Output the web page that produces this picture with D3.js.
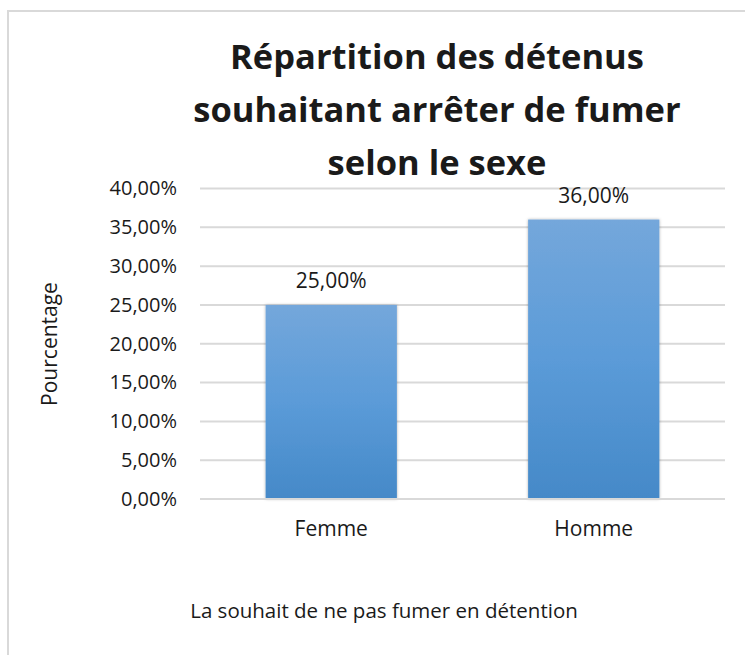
<!DOCTYPE html>
<html><head><meta charset="utf-8">
<script src="https://cdn.jsdelivr.net/npm/d3@7"></script>
<style>body{margin:0;background:#fff}svg{display:block}text{font-family:"Open Sans",sans-serif;fill:#1a1a1a}</style>
</head><body><svg id="c" width="745" height="655"></svg>
<script>
const categories = ["Femme", "Homme"];
const values = [0.25, 0.36];
const yTicks = [0, 0.05, 0.10, 0.15, 0.20, 0.25, 0.30, 0.35, 0.40];
const titleLines = ["Répartition des détenus", "souhaitant arrêter de fumer", "selon le sexe"];
const xTitle = "La souhait de ne pas fumer en détention";
const yTitle = "Pourcentage";

(function(){
const svg = d3.select("#c");
const fmt = v => d3.format(".2f")(v*100).replace(".", ",") + "%";

// border
svg.append("rect").attr("x",8).attr("y",11).attr("width",760).attr("height",670)
  .attr("fill","none").attr("stroke","#d9d9d9").attr("stroke-width",2);

const pL=200, pR=725, pT=188.5, pB=499;
const x = d3.scaleBand().domain(categories).range([pL,pR]).paddingInner(0.5).paddingOuter(0.25);
const y = d3.scaleLinear().domain([0,0.40]).range([pB,pT]);

const defs = svg.append("defs");
const g = defs.append("linearGradient").attr("id","bg").attr("x1",0).attr("y1",0).attr("x2",0).attr("y2",1);
g.append("stop").attr("offset","0%").attr("stop-color","#74a7db");
g.append("stop").attr("offset","50%").attr("stop-color","#5b9bd8");
g.append("stop").attr("offset","100%").attr("stop-color","#4589c8");
const f = defs.append("filter").attr("id","sh").attr("x","-10%").attr("y","-10%").attr("width","120%").attr("height","120%");
f.append("feDropShadow").attr("dx",0).attr("dy",0).attr("stdDeviation",1.5).attr("flood-color","#000").attr("flood-opacity",0.3);

// gridlines
svg.append("g").selectAll("line").data(yTicks).join("line")
  .attr("x1",pL).attr("x2",pR).attr("y1",d=>y(d)).attr("y2",d=>y(d))
  .attr("stroke","#d9d9d9").attr("stroke-width",2);

// y axis
const ya = svg.append("g").attr("transform",`translate(${pL},0)`)
  .call(d3.axisLeft(y).tickValues(yTicks).tickFormat(fmt).tickSize(0).tickPadding(23));
ya.select(".domain").remove();
ya.selectAll("text").style("font-family","'Open Sans',sans-serif").style("font-size","20px").attr("fill","#1a1a1a");

// bars
svg.append("g").selectAll("rect").data(values).join("rect")
  .attr("x",(d,i)=>x(categories[i])).attr("width",x.bandwidth())
  .attr("y",d=>y(d)).attr("height",d=>y(0)-y(d))
  .attr("fill","url(#bg)").attr("filter","url(#sh)");

// baseline
svg.append("line").attr("x1",pL).attr("x2",pR).attr("y1",y(0)).attr("y2",y(0))
  .attr("stroke","#d9d9d9").attr("stroke-width",2);

// value labels
svg.append("g").selectAll("text").data(values).join("text")
  .attr("x",(d,i)=>x(categories[i])+x.bandwidth()/2).attr("y",d=>y(d)-17)
  .attr("text-anchor","middle").style("font-size","21px").text(fmt);

// x axis labels
const xa = svg.append("g").attr("transform",`translate(0,${pB})`)
  .call(d3.axisBottom(x).tickSize(0).tickPadding(22));
xa.select(".domain").remove();
xa.selectAll("text").style("font-family","'Open Sans',sans-serif").style("font-size","21px").attr("fill","#1a1a1a");

// axis titles
svg.append("text").attr("x",384).attr("y",618).attr("text-anchor","middle").style("font-size","20.5px").text(xTitle);
svg.append("text").attr("transform","translate(57,344) rotate(-90)").attr("text-anchor","middle").style("font-size","21px").text(yTitle);

// title
svg.append("g").selectAll("text").data(titleLines).join("text")
  .attr("x",437).attr("y",(d,i)=>69+i*53).attr("text-anchor","middle")
  .style("font-size","34.5px").style("font-weight","bold").text(d=>d);
})();
</script></body></html>
